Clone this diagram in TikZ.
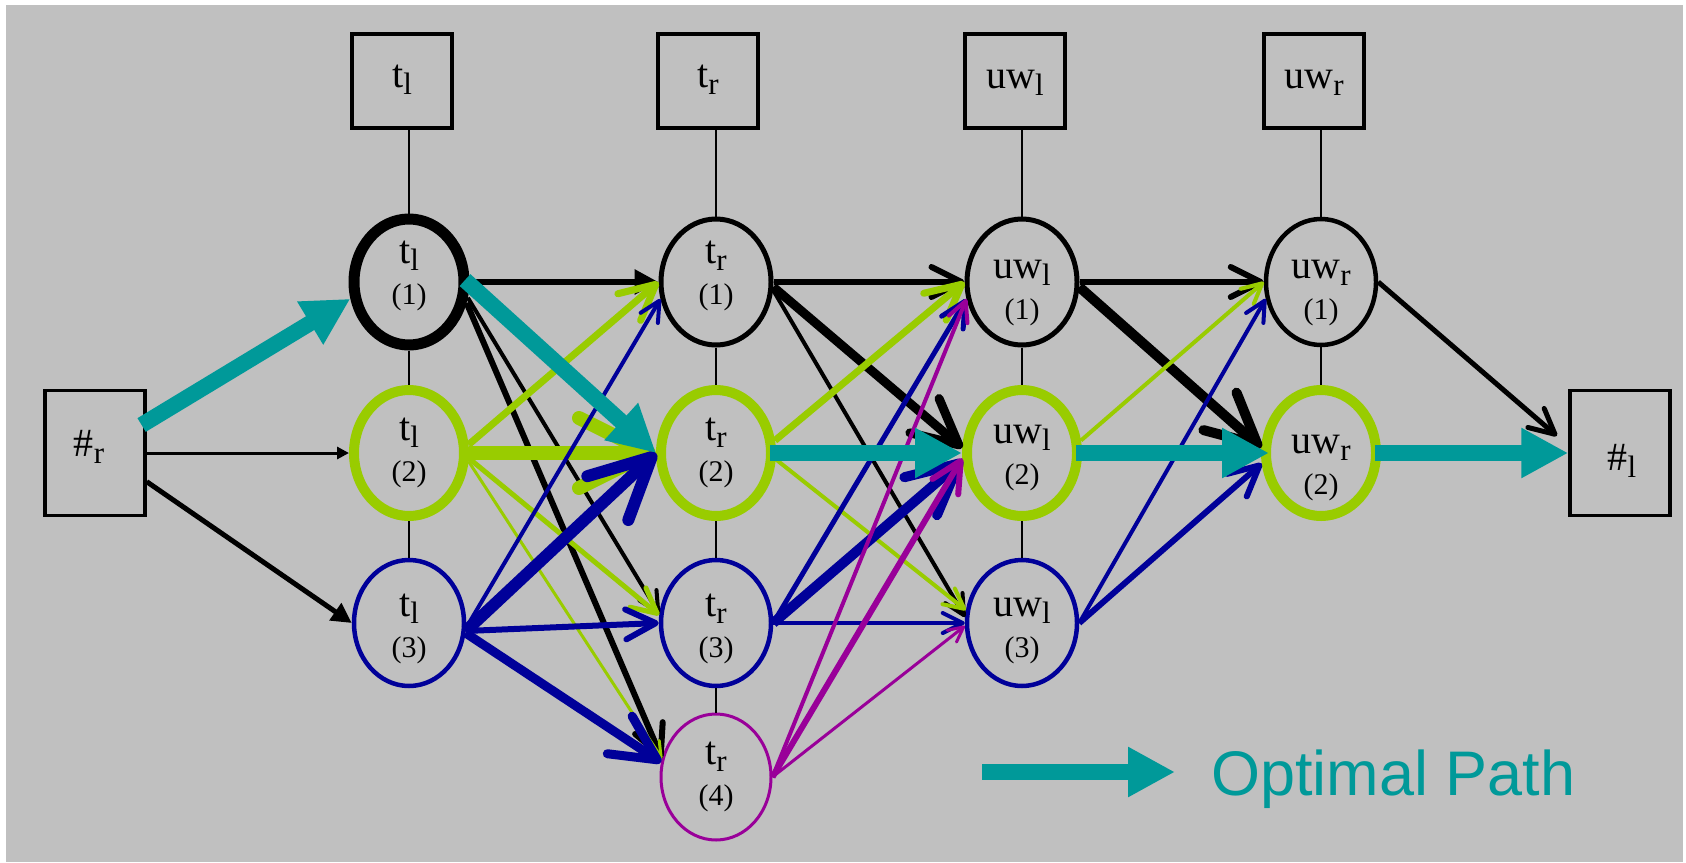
\documentclass[tikz,border=0pt]{standalone}
\usepackage{fontspec}
\setmainfont{Liberation Serif}
\newfontfamily\sansf{Liberation Sans}
\usetikzlibrary{arrows.meta,shapes.geometric,calc}
\definecolor{bg}{RGB}{192,192,192}
\definecolor{tealc}{RGB}{0,153,153}
\definecolor{greenc}{RGB}{153,204,0}
\definecolor{bluec}{RGB}{0,0,153}
\definecolor{purplec}{RGB}{153,0,153}
\newcommand\lsub[1]{\raisebox{-7pt}{\fontsize{31}{31}\selectfont #1}}
\newcommand\enode[7]{%
  \node[ell,#4] (#1) at (#2,#3) {};
  \node[mtext] (#1m) at ($(#1.center)+(0,#7)$) {#5};
  \node[ntext] (#1n) at ($(#1.center)+(0,#7+41)$) {#6};
}
\begin{document}
\begin{tikzpicture}[x=1pt,y=-1pt,
  ell/.style={ellipse, draw, minimum width=110pt, minimum height=126pt, inner sep=0pt},
  topbox/.style={rectangle, draw, line width=3.5pt, minimum width=100pt, minimum height=94pt, inner sep=0pt},
  hbox/.style={rectangle, draw, line width=3.5pt, minimum width=100pt, minimum height=125pt, inner sep=0pt},
  mtext/.style={inner sep=0pt, anchor=base, font=\fontsize{40}{40}\selectfont},
  ntext/.style={inner sep=0pt, anchor=base, font=\fontsize{30}{30}\selectfont},
  vline/.style={line width=2.5pt},
  op/.style={-{Straight Barb[round,length=0pt 5,width=0pt 5]}},
  fl/.style={-{Triangle[length=0pt 4,width=0pt 4]}},
  opt/.style={draw=tealc, line width=16pt, shorten <=-6pt, -{Triangle[length=47pt,width=47pt]}},
  blk/.style={draw=black},
  grn/.style={draw=greenc},
  blu/.style={draw=bluec},
  pur/.style={draw=purplec},
]
\useasboundingbox (0,0) rectangle (1686,862);
\fill[white] (0,0) rectangle (1686,862);
\fill[bg] (6,5) rectangle (1683,862);

% top boxes
\node[topbox] (tlbox) at (402,81) {};
\node[mtext] (tlboxt) at ($(tlbox.center)+(0,6)$) {t\lsub{l}};
\node[topbox] (trbox) at (708,81) {};
\node[mtext] (trboxt) at ($(trbox.center)+(0,6)$) {t\lsub{r}};
\node[topbox] (uwlbox) at (1015,81) {};
\node[mtext] (uwlboxt) at ($(uwlbox.center)+(0,7)$) {uw\lsub{l}};
\node[topbox] (uwrbox) at (1314,81) {};
\node[mtext] (uwrboxt) at ($(uwrbox.center)+(0,7)$) {uw\lsub{r}};

% end boxes
\node[hbox] (hashr) at (95,453) {};
\node[mtext] (hashrt) at ($(hashr.center)+(-6,3)$) {\#\lsub{r}};
\node[hbox] (hashl) at (1620,453) {};
\node[mtext] (hashlt) at ($(hashl.center)+(2,17)$) {\#\lsub{l}};

% ellipses
\enode{tl1}{409}{282}{draw=black,line width=11pt}{t\lsub{l}}{(1)}{-19}
\enode{tl2}{409}{453}{draw=greenc,line width=10pt}{t\lsub{l}}{(2)}{-13}
\enode{tl3}{409}{623}{draw=bluec,line width=4.5pt}{t\lsub{l}}{(3)}{-7}
\enode{tr1}{716}{282}{draw=black,line width=5pt}{t\lsub{r}}{(1)}{-19}
\enode{tr2}{716}{453}{draw=greenc,line width=10pt}{t\lsub{r}}{(2)}{-13}
\enode{tr3}{716}{623}{draw=bluec,line width=4.5pt}{t\lsub{r}}{(3)}{-7}
\enode{tr4}{716}{777}{draw=purplec,line width=3pt}{t\lsub{r}}{(4)}{-13}
\enode{uwl1}{1022}{282}{draw=black,line width=5pt}{uw\lsub{l}}{(1)}{-4}
\enode{uwl2}{1022}{453}{draw=greenc,line width=10pt}{uw\lsub{l}}{(2)}{-10}
\enode{uwl3}{1022}{623}{draw=bluec,line width=4.5pt}{uw\lsub{l}}{(3)}{-7}
\enode{uwr1}{1321}{282}{draw=black,line width=4.5pt}{uw\lsub{r}}{(1)}{-4}
\enode{uwr2}{1321}{453}{draw=greenc,line width=10pt}{uw\lsub{r}}{(2)}{0}

% vertical links
\draw[vline] (tl1.north |- tlbox.south) -- (tl1.north);
\draw[vline] (tr1.north |- trbox.south) -- (tr1.north);
\draw[vline] (uwl1.north |- uwlbox.south) -- (uwl1.north);
\draw[vline] (uwr1.north |- uwrbox.south) -- (uwr1.north);
\draw[vline] (tl1.south) -- (tl2.north);
\draw[vline] (tl2.south) -- (tl3.north);
\draw[vline] (tr1.south) -- (tr2.north);
\draw[vline] (tr2.south) -- (tr3.north);
\draw[vline] (tr3.south) -- (tr4.north);
\draw[vline] (uwl1.south) -- (uwl2.north);
\draw[vline] (uwl2.south) -- (uwl3.north);
\draw[vline] (uwr1.south) -- (uwr2.north);

% start -> column 1
\draw[blk,fl,line width=3pt] (hashr.east) -- (tl2.west);
\draw[blk,fl,line width=5pt] (hashr.-29) -- (tl3.west);

% column 1 -> column 2
\draw[blk,fl,line width=6pt] (tl1.east) -- (tr1.west);
\draw[blk,op,line width=4pt] (tl1.-15) -- (tr3.171);
\draw[blk,op,line width=6pt] (tl1.-20) -- (tr4.161);
\draw[grn,op,line width=7pt] (tl2.8) -- (tr1.west);
\draw[grn,op,line width=14pt] (tl2.east) -- (tr2.west);
\draw[grn,op,line width=5pt] (tl2.-5) -- (tr3.172);
\draw[grn,op,line width=3pt] (tl2.-8) -- (tr4.161);
\draw[blu,op,line width=4pt] (tl3.-5) -- (tr1.197);
\draw[blu,op,line width=12pt] (tl3.-8) -- (tr2.west);
\draw[blu,op,line width=6pt] (tl3.-8) -- (tr3.west);
\draw[blu,op,line width=9pt] (tl3.-10) -- (tr4.165);

% column 2 -> column 3
\draw[blk,op,line width=6pt] (tr1.east) -- (uwl1.west);
\draw[blk,op,line width=9pt] (tr1.-5) -- (uwl2.175);
\draw[blk,op,line width=4pt] (tr1.-8) -- (uwl3.174);
\draw[grn,op,line width=7pt] (tr2.12) -- (uwl1.west);
\draw[grn,op,line width=4pt] (tr2.-6) -- (uwl3.167);
\draw[blu,op,line width=5pt] (tr3.east) -- (uwl1.197);
\draw[blu,op,line width=10pt] (tr3.east) -- (uwl2.187);
\draw[blu,op,line width=4pt] (tr3.east) -- (uwl3.west);
\draw[pur,op,line width=4pt] (tr4.east) -- (uwl1.197);
\draw[pur,op,line width=6pt] (tr4.east) -- (uwl2.185);
\draw[pur,op,line width=3pt] (tr4.east) -- (uwl3.183);

% column 3 -> column 4
\draw[blk,op,line width=6pt] (uwl1.east) -- (uwr1.west);
\draw[blk,op,line width=10pt] (uwl1.-5) -- (uwr2.175);
\draw[grn,op,line width=4pt] (uwl2.12) -- (uwr1.west);
\draw[blu,op,line width=4pt] (uwl3.east) -- (uwr1.197);
\draw[blu,op,line width=6pt] (uwl3.east) -- (uwr2.190);

% column 4 -> end
\draw[blk,op,line width=5pt,shorten >=15pt] (uwr1.east) -- (hashl.172);

% optimal path
\draw[opt] (hashr.31) -- (tl1.196);
\draw[opt] (tl1.-2) -- (tr2.west);
\draw[opt] (tr2.east) -- (uwl2.west);
\draw[opt] (uwl2.east) -- ([xshift=8pt]uwr2.west);
\draw[opt] (uwr2.east) -- (hashl.west);

% legend
\coordinate (lg1) at (982,772);
\coordinate (lg2) at (1175,772);
\draw[opt,shorten <=0pt] (lg1) -- (lg2);
\node[anchor=base west, inner sep=0pt, font=\sansf\fontsize{63}{63}\selectfont, text=tealc] (leg) at (1211,795) {Optimal Path};
\end{tikzpicture}
\end{document}
